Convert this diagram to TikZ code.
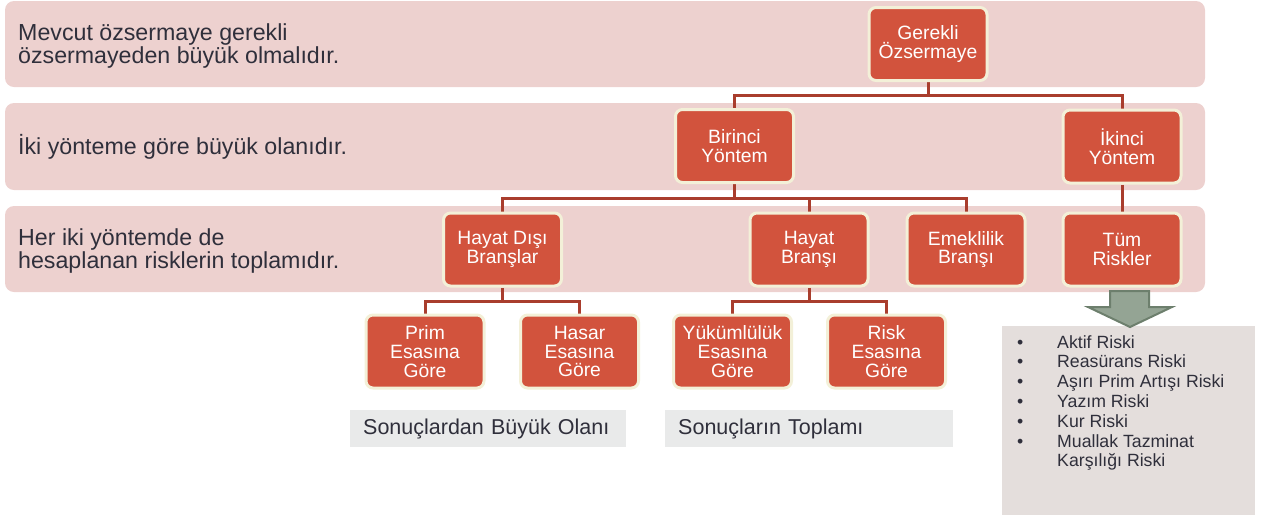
\documentclass[tikz,border=0pt]{standalone}
\usepackage{fontspec}
\setmainfont{Liberation Sans}
\definecolor{band}{HTML}{EDD1CF}
\definecolor{nodefill}{HTML}{D2533D}
\definecolor{nodeborder}{HTML}{F3F0D8}
\definecolor{conn}{HTML}{A93D2D}
\definecolor{textdark}{HTML}{2F2F3B}
\definecolor{grayboxc}{HTML}{E9EAEA}
\definecolor{listboxc}{HTML}{E4DEDC}
\definecolor{arrowfill}{HTML}{94A494}
\definecolor{arrowdraw}{HTML}{6D7F6D}
\pgfdeclarelayer{back}
\pgfdeclarelayer{mid}
\pgfsetlayers{back,mid,main}
\tikzset{
  orgbox/.style={draw=nodeborder, line width=3pt, fill=nodefill, rounded corners=7pt,
    minimum width=118pt, minimum height=73pt, inner sep=0pt, text=white, align=center,
    font=\fontsize{19.3}{18.8}\selectfont},
  conn/.style={draw=conn, line width=3pt},
  bandtext/.style={anchor=west, inner sep=0pt, align=left, text=textdark,
    font=\fontsize{23.2}{22.5}\selectfont},
  resbox/.style={anchor=north west, fill=grayboxc, minimum height=37pt, inner xsep=13pt,
    inner ysep=0pt, align=left, text=textdark, font=\fontsize{21.5}{21.5}\selectfont},
  bandbg/.style={fill=band, rounded corners=9pt}
}
\begin{document}
\begin{tikzpicture}[x=1pt,y=-1pt]
\useasboundingbox (0,0) rectangle (1269,515);
\begin{pgfonlayer}{back}
\fill[bandbg] (5,1) rectangle (1205,87);
\fill[bandbg] (5,103) rectangle (1205,190);
\fill[bandbg] (5,206) rectangle (1205,292);
\end{pgfonlayer}

\node[bandtext] (t1) at (18,46) {Mevcut özsermaye gerekli\\özsermayeden büyük olmalıdır.};
\node[bandtext] (t2) at (18,147) {İki yönteme göre büyük olanıdır.};
\node[bandtext] (t3) at (18,251) {Her iki yöntemde de\\hesaplanan risklerin toplamıdır.};

\node[orgbox] (g) at (928,44) {Gerekli\\Özsermaye};
\node[orgbox] (b1) at (734.5,146) {Birinci\\Yöntem};
\node[orgbox] (b2) at (1122,146.5) {İkinci\\Yöntem};
\node[orgbox] (hd) at (502.5,249.5) {Hayat Dışı\\Branşlar};
\node[orgbox] (hb) at (809,249.5) {Hayat\\Branşı};
\node[orgbox] (eb) at (966,249.5) {Emeklilik\\Branşı};
\node[orgbox] (tr) at (1122,249.5) {Tüm\\Riskler};
\node[orgbox] (pe) at (425,351.5) {Prim\\Esasına\\Göre};
\node[orgbox] (he) at (579.5,351.5) {Hasar\\Esasına\\Göre};
\node[orgbox] (ye) at (732.5,351.5) {Yükümlülük\\Esasına\\Göre};
\node[orgbox] (re) at (886.5,351.5) {Risk\\Esasına\\Göre};

\coordinate (bus1) at (928,95);
\coordinate (bus2) at (734.5,198);
\coordinate (bus3) at (502.5,301);
\coordinate (bus4) at (809,301);
\begin{pgfonlayer}{mid}
\draw[conn] (g.south) -- (bus1);
\draw[conn] (b1.north) |- (bus1) -| (b2.north);
\draw[conn] (b1.south) -- (bus2);
\draw[conn] (hd.north) |- (bus2) -| (eb.north);
\draw[conn] (hb.north) -- (hb.north |- bus2);
\draw[conn] (b2.south) -- (tr.north);
\draw[conn] (hd.south) -- (bus3);
\draw[conn] (pe.north) |- (bus3) -| (he.north);
\draw[conn] (hb.south) -- (bus4);
\draw[conn] (ye.north) |- (bus4) -| (re.north);
\end{pgfonlayer}

\node[resbox, minimum width=276pt, text width=250pt] (r1) at (350,410) {Sonuçlardan Büyük Olanı};
\node[resbox, minimum width=288pt, text width=262pt] (r2) at (665,410) {Sonuçların Toplamı};

\fill[listboxc] (1002,326) rectangle (1255,515);
\node[anchor=north west, inner sep=0pt, align=left, text=textdark,
  font=\fontsize{17.7}{19.8}\selectfont] (list) at (1017,335)
  {\makebox[40pt][l]{•}Aktif Riski\\
   \makebox[40pt][l]{•}Reasürans Riski\\
   \makebox[40pt][l]{•}Aşırı Prim Artışı Riski\\
   \makebox[40pt][l]{•}Yazım Riski\\
   \makebox[40pt][l]{•}Kur Riski\\
   \makebox[40pt][l]{•}Muallak Tazminat\\
   \makebox[40pt][l]{}Karşılığı Riski};

\filldraw[fill=arrowfill, draw=arrowdraw, line width=2pt, line join=miter]
  (1110,291) -- (1149,291) -- (1149,307) -- (1172,307) -- (1130,327) -- (1088,307) -- (1110,307) -- cycle;
\end{tikzpicture}
\end{document}
